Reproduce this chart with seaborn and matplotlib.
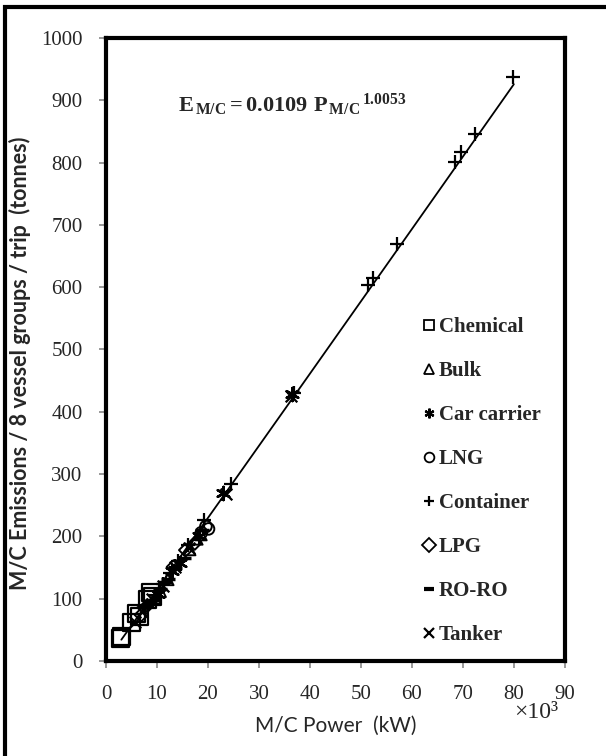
import numpy as np
import pandas as pd
import seaborn as sns
import matplotlib
matplotlib.use("Agg")
import matplotlib.pyplot as plt
from matplotlib.lines import Line2D
from matplotlib.patches import Rectangle

# ---------------- data (P in 10^3 kW, E in tonnes) ----------------
chem_p = [2.8, 3.1, 5.0, 6.0, 6.6, 8.2, 8.7, 9.1]
chem_e = [36, 40, 61, 76, 71, 98, 110, 104]

bulk_p = [9.6, 10.6, 12.1, 16.4, 17.8, 18.6]
bulk_e = [101, 112, 131, 179, 196, 203]

car_p = [10.2, 13.0, 14.6, 18.2, 23.0, 36.5]
car_e = [108, 145, 158, 200, 270, 428]

lng_p = [18.7, 19.6, 20.1]
lng_e = [206, 216, 212]

cont_p = [7.6, 9.6, 11.2, 12.6, 14.2, 16.1, 19.2, 24.5, 36.8, 51.4, 52.3,
          57.0, 68.4, 69.7, 72.3, 79.8]
cont_e = [86, 106, 124, 141, 161, 186, 226, 284, 430, 603, 615,
          670, 801, 817, 846, 937]

lpg_p = [6.9, 8.1, 13.2, 15.6, 17.4]
lpg_e = [74, 89, 151, 178, 189]

roro_p = [8.6, 10.6, 11.6, 12.2, 13.6, 15.2, 18.9]
roro_e = [93, 116, 126, 131, 149, 166, 211]

tank_p = [5.6, 7.1, 9.1, 11.1, 13.6, 16.2, 23.6, 36.3]
tank_e = [63, 79, 99, 121, 151, 181, 268, 425]

categories = ["Chemical", "Bulk", "Car carrier", "LNG", "Container", "LPG", "RO-RO", "Tanker"]
fit_coef = 0.0109
fit_exp = 1.0053
fit_range = [3.0, 80.0]

x_ticks = [0, 10, 20, 30, 40, 50, 60, 70, 80, 90]
y_ticks = [0, 100, 200, 300, 400, 500, 600, 700, 800, 900, 1000]

# ---------------- styling ----------------
sns.set_theme(style="white")
plt.rcParams["font.family"] = ["Liberation Serif", "DejaVu Serif"]
plt.rcParams["mathtext.fontset"] = "custom"
plt.rcParams["mathtext.rm"] = "Liberation Serif:bold"
plt.rcParams["mathtext.it"] = "Liberation Serif:bold"
plt.rcParams["mathtext.bf"] = "Liberation Serif:bold"

fig = plt.figure(figsize=(6.06, 7.56), dpi=100)
ax = fig.add_axes([0.175, 0.1257, 0.757, 0.824])

series = {
    "Chemical": (chem_p, chem_e),
    "Bulk": (bulk_p, bulk_e),
    "Car carrier": (car_p, car_e),
    "LNG": (lng_p, lng_e),
    "Container": (cont_p, cont_e),
    "LPG": (lpg_p, lpg_e),
    "RO-RO": (roro_p, roro_e),
    "Tanker": (tank_p, tank_e),
}
mk = {
    "Chemical": dict(marker="s", s=150, filled=False, lw=1.6),
    "Bulk": dict(marker="^", s=70, filled=False, lw=1.4),
    "Car carrier": dict(marker=(6, 2, 0), s=90, filled=True, lw=1.8),
    "LNG": dict(marker="o", s=70, filled=False, lw=1.4),
    "Container": dict(marker="+", s=110, filled=True, lw=1.6),
    "LPG": dict(marker="D", s=45, filled=False, lw=1.4),
    "RO-RO": dict(marker="_", s=90, filled=True, lw=2.5),
    "Tanker": dict(marker="x", s=70, filled=True, lw=1.6),
}

# fitted trend line from the stated regression
p_line = np.linspace(fit_range[0], fit_range[1], 200)
e_line = fit_coef * (p_line * 1000) ** fit_exp
sns.lineplot(x=p_line, y=e_line, ax=ax, color="black", lw=1.3, zorder=2)

for cat in categories:
    p, e = series[cat]
    df = pd.DataFrame({"P": p, "E": e})
    m = mk[cat]
    if m["filled"]:
        sns.scatterplot(data=df, x="P", y="E", ax=ax, marker=m["marker"], s=m["s"],
                        color="black", linewidth=m["lw"], zorder=3, legend=False)
    else:
        sns.scatterplot(data=df, x="P", y="E", ax=ax, marker=m["marker"], s=m["s"],
                        facecolors="none", edgecolor="black", linewidth=m["lw"],
                        zorder=3, legend=False)

ax.set_xlim(0, 90)
ax.set_ylim(0, 1000)
ax.set_xticks(x_ticks)
ax.set_yticks(y_ticks)
ax.set_xticklabels([str(t) for t in x_ticks], fontsize=15)
ax.set_yticklabels([str(t) for t in y_ticks], fontsize=15)
ax.tick_params(axis="y", direction="out", length=5, width=1.2, color="#888888",
               left=True, pad=12)
ax.tick_params(axis="x", direction="out", length=5, width=1.2, color="#888888",
               bottom=True, pad=12)
for sp in ax.spines.values():
    sp.set_color("black")
    sp.set_linewidth(3)
    sp.set_visible(True)

ax.set_xlabel("M/C Power  (kW)", fontfamily="Lato", fontsize=15, labelpad=9)
ax.set_ylabel("M/C Emissions / 8 vessel groups / trip  (tonnes)", fontfamily="Lato",
              fontweight="bold", fontsize=15.5)
ax.yaxis.set_label_coords(-0.163, 0.478)

ax.text(0.405, 0.892, r"$E_{\,M/C} = 0.0109\ P_{\,M/C}{}^{\,1.0053}$", transform=ax.transAxes,
        fontsize=16, ha="center", va="center")
fig.text(0.885, 0.057, "×10³", fontsize=17, ha="center", va="center")

# legend
handles = []
for cat in categories:
    m = mk[cat]
    if m["filled"]:
        h = Line2D([], [], ls="none", marker=m["marker"], color="black", markersize=7,
                   markeredgewidth=1.6 if cat != "RO-RO" else 3)
    else:
        h = Line2D([], [], ls="none", marker=m["marker"], markerfacecolor="none",
                   markeredgecolor="black", markersize=7, markeredgewidth=1.3)
    handles.append(h)
leg = ax.legend(handles, categories, loc="upper left", bbox_to_anchor=(0.65, 0.582),
                frameon=False, handlelength=0.6, handletextpad=0.15, labelspacing=1.15,
                prop={"family": "Liberation Serif", "weight": "bold", "size": 15})

# outer frame (left and top edges visible)
fig.add_artist(Rectangle((0.0083, -0.2), 1.5, 1.1907, transform=fig.transFigure,
                         fill=False, lw=3, edgecolor="black"))

fig.savefig("out.png", dpi=100)
